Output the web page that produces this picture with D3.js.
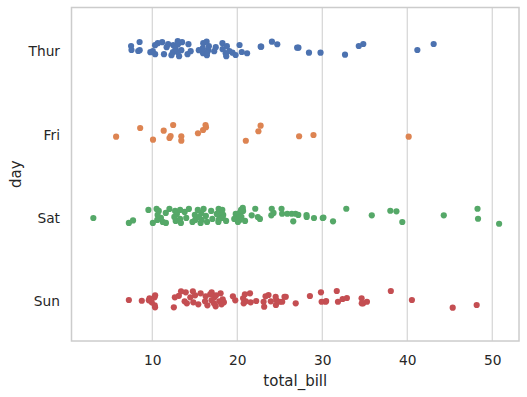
<!DOCTYPE html>
<html>
<head>
<meta charset="utf-8">
<script src="https://cdn.jsdelivr.net/npm/d3@7"></script>
<style>
  html, body { margin: 0; padding: 0; background: #ffffff; }
  svg { display: block; }
  text { font-family: "DejaVu Sans", sans-serif; fill: #262626; }
</style>
</head>
<body>
<svg id="chart" width="527" height="397"></svg>
<script>
// ---- data ----
const days = ["Thur", "Fri", "Sat", "Sun"];
const dayColors = ["#4c72b0", "#dd8452", "#55a868", "#c44e52"];
const xTicks = [10, 20, 30, 40, 50];

const thurBill = [27.20,22.76,17.29,19.44,16.66,10.07,32.68,15.98,34.83,13.03,18.28,24.71,21.16,10.65,12.43,24.08,11.69,13.42,14.26,15.95,12.48,29.80,8.52,14.52,11.38,22.82,19.08,20.27,11.17,12.26,18.26,8.51,10.33,14.15,16.00,13.16,17.47,34.30,41.19,27.05,16.43,8.35,18.64,11.87,9.78,7.51,19.81,28.44,15.48,16.58,7.56,10.34,43.11,13.00,13.51,18.71,12.74,13.00,16.40,20.53,16.47,18.78];
const thurJitter = [-0.018,-0.030,0.024,0.042,-0.036,0.024,0.066,0.048,-0.062,-0.060,0.000,-0.059,0.049,-0.072,0.036,-0.090,-0.024,0.012,-0.060,-0.012,-0.048,0.042,0.012,0.024,0.060,-0.030,0.022,-0.050,-0.084,0.072,-0.072,-0.086,-0.048,0.060,-0.072,0.084,-0.024,-0.038,0.010,-0.018,0.072,0.022,0.048,-0.060,0.036,-0.038,0.070,0.042,0.012,0.012,0.010,0.060,-0.062,0.036,-0.084,0.084,-0.012,-0.096,-0.090,0.034,0.036,-0.036];

const friBill = [28.97,22.49,5.75,16.32,22.75,40.17,27.28,12.03,21.01,12.46,11.35,15.38,12.16,13.42,8.58,15.98,13.42,16.27,10.09];
const friJitter = [0.029,-0.016,0.049,-0.064,-0.083,0.049,0.044,0.065,0.098,-0.091,-0.023,0.008,0.041,0.044,-0.055,-0.031,0.097,-0.091,0.085];

const satBill = [20.65,17.92,20.29,15.77,39.42,19.82,17.81,13.37,12.69,21.70,19.65,9.55,18.35,15.06,20.69,17.78,24.06,16.31,16.93,18.69,31.27,16.04,38.01,26.41,11.24,48.27,20.29,13.81,11.02,18.29,17.59,20.08,16.45,3.07,20.23,15.01,12.02,17.07,26.86,25.28,14.73,10.51,17.92,44.30,22.42,20.92,15.36,20.49,25.21,18.24,14.31,14.00,7.25,10.59,10.63,50.81,15.81,26.59,38.73,24.27,12.76,30.06,25.89,48.33,13.27,28.17,12.90,28.15,11.59,7.74,30.14,20.45,13.28,22.12,24.01,15.69,11.61,10.77,15.53,10.07,12.60,32.83,35.83,29.03,27.18,22.67,17.82];
const satJitter = [-0.096,0.012,-0.036,-0.036,0.073,-0.024,-0.084,0.084,-0.060,-0.007,0.036,-0.072,-0.012,0.048,-0.060,0.072,-0.086,0.000,-0.060,0.060,0.065,-0.084,-0.062,-0.026,0.072,-0.086,0.048,-0.048,0.024,0.024,-0.024,0.072,0.072,0.025,0.024,-0.012,-0.084,0.036,-0.026,-0.026,0.072,-0.084,-0.048,-0.007,0.013,0.060,-0.072,0.012,-0.086,-0.072,-0.084,0.024,0.084,0.048,-0.012,0.094,0.048,0.065,-0.055,-0.036,0.060,0.025,-0.026,0.034,0.036,0.012,-0.024,-0.011,-0.036,0.054,0.020,-0.072,-0.072,-0.086,-0.007,0.084,0.084,-0.060,0.012,0.084,0.012,-0.086,-0.007,0.025,-0.012,0.036,0.048];

const sunBill = [16.99,10.34,21.01,23.68,24.59,25.29,8.77,26.88,15.04,14.78,10.27,35.26,15.42,18.43,14.83,21.58,10.33,16.29,16.97,17.46,13.94,9.68,30.40,18.29,22.23,32.40,28.55,18.04,12.54,10.29,34.81,9.94,25.56,19.49,38.07,23.95,25.71,17.31,29.93,14.07,13.13,17.26,24.55,19.77,29.85,48.17,25.00,13.39,16.49,21.50,12.66,16.21,13.81,17.51,24.52,20.76,31.71,7.25,31.85,16.82,32.90,17.89,14.48,9.60,34.63,34.65,23.33,45.35,23.17,40.55,20.69,20.90,30.46,18.15,23.10,15.69];
const sunJitter = [-0.084,-0.048,0.024,-0.052,0.008,0.029,0.017,0.048,-0.048,-0.096,-0.024,0.029,0.060,0.036,0.036,0.036,0.096,-0.036,0.012,0.084,-0.084,-0.012,0.029,0.000,0.020,-0.004,-0.040,-0.072,0.096,0.072,0.048,0.036,-0.031,-0.036,-0.100,0.024,-0.031,-0.024,0.029,0.048,-0.042,0.048,0.068,0.012,-0.084,0.068,0.029,-0.096,0.072,-0.072,-0.024,0.024,0.024,-0.048,-0.031,0.048,-0.100,0.008,0.029,-0.060,-0.016,0.024,-0.024,0.012,-0.012,0.048,-0.036,0.100,0.089,0.008,-0.012,-0.060,0.020,0.060,0.029,-0.072];

const xLabel = "total_bill";
const yLabel = "day";

// ---- build point table ----
const series = [
  [thurBill, thurJitter],
  [friBill, friJitter],
  [satBill, satJitter],
  [sunBill, sunJitter]
];
const points = [];
series.forEach(([bills, jit], i) => {
  bills.forEach((b, k) => points.push({ day: i, bill: b, jitter: jit[k] }));
});

// ---- layout ----
const svg = d3.select("#chart");
const mLeft = 71.5, mRight = 519, mTop = 7.5, mBottom = 341;

const x = d3.scaleLinear().domain([0.5, 53.15]).range([mLeft, mRight]);
const y = d3.scaleLinear().domain([-0.5, days.length - 0.5]).range([mTop, mBottom]);

// vertical grid
svg.append("g")
  .selectAll("line")
  .data(xTicks)
  .join("line")
  .attr("x1", d => x(d)).attr("x2", d => x(d))
  .attr("y1", mTop).attr("y2", mBottom)
  .attr("stroke", "#cccccc")
  .attr("stroke-width", 1);

// x axis tick labels
const xAxis = d3.axisBottom(x).tickValues(xTicks).tickSize(0).tickPadding(0).tickFormat(d3.format("d"));
const gx = svg.append("g").attr("transform", `translate(0,${mBottom})`).call(xAxis);
gx.select(".domain").remove();
gx.selectAll("text")
  .attr("y", 24)
  .attr("dy", null)
  .style("font-family", "DejaVu Sans, sans-serif")
  .style("font-size", "13.75px")
  .attr("fill", "#262626");

// y axis tick labels
const gy = svg.append("g");
gy.selectAll("text")
  .data(days)
  .join("text")
  .attr("x", 60)
  .attr("y", (d, i) => y(i) + 7)
  .attr("text-anchor", "end")
  .style("font-size", "13.75px")
  .text(d => d);

// points
svg.append("g")
  .selectAll("circle")
  .data(points)
  .join("circle")
  .attr("cx", d => x(d.bill))
  .attr("cy", d => y(d.day + d.jitter))
  .attr("r", 3.1)
  .attr("fill", d => dayColors[d.day]);

// frame
svg.append("rect")
  .attr("x", mLeft).attr("y", mTop)
  .attr("width", mRight - mLeft).attr("height", mBottom - mTop)
  .attr("fill", "none")
  .attr("stroke", "#cccccc")
  .attr("stroke-width", 1.5);

// axis labels
svg.append("text")
  .attr("x", (mLeft + mRight) / 2)
  .attr("y", 385.5)
  .attr("text-anchor", "middle")
  .style("font-size", "15px")
  .text(xLabel);

svg.append("text")
  .attr("transform", `translate(20.5,${(mTop + mBottom) / 2}) rotate(-90)`)
  .attr("text-anchor", "middle")
  .style("font-size", "15px")
  .text(yLabel);
</script>
</body>
</html>
